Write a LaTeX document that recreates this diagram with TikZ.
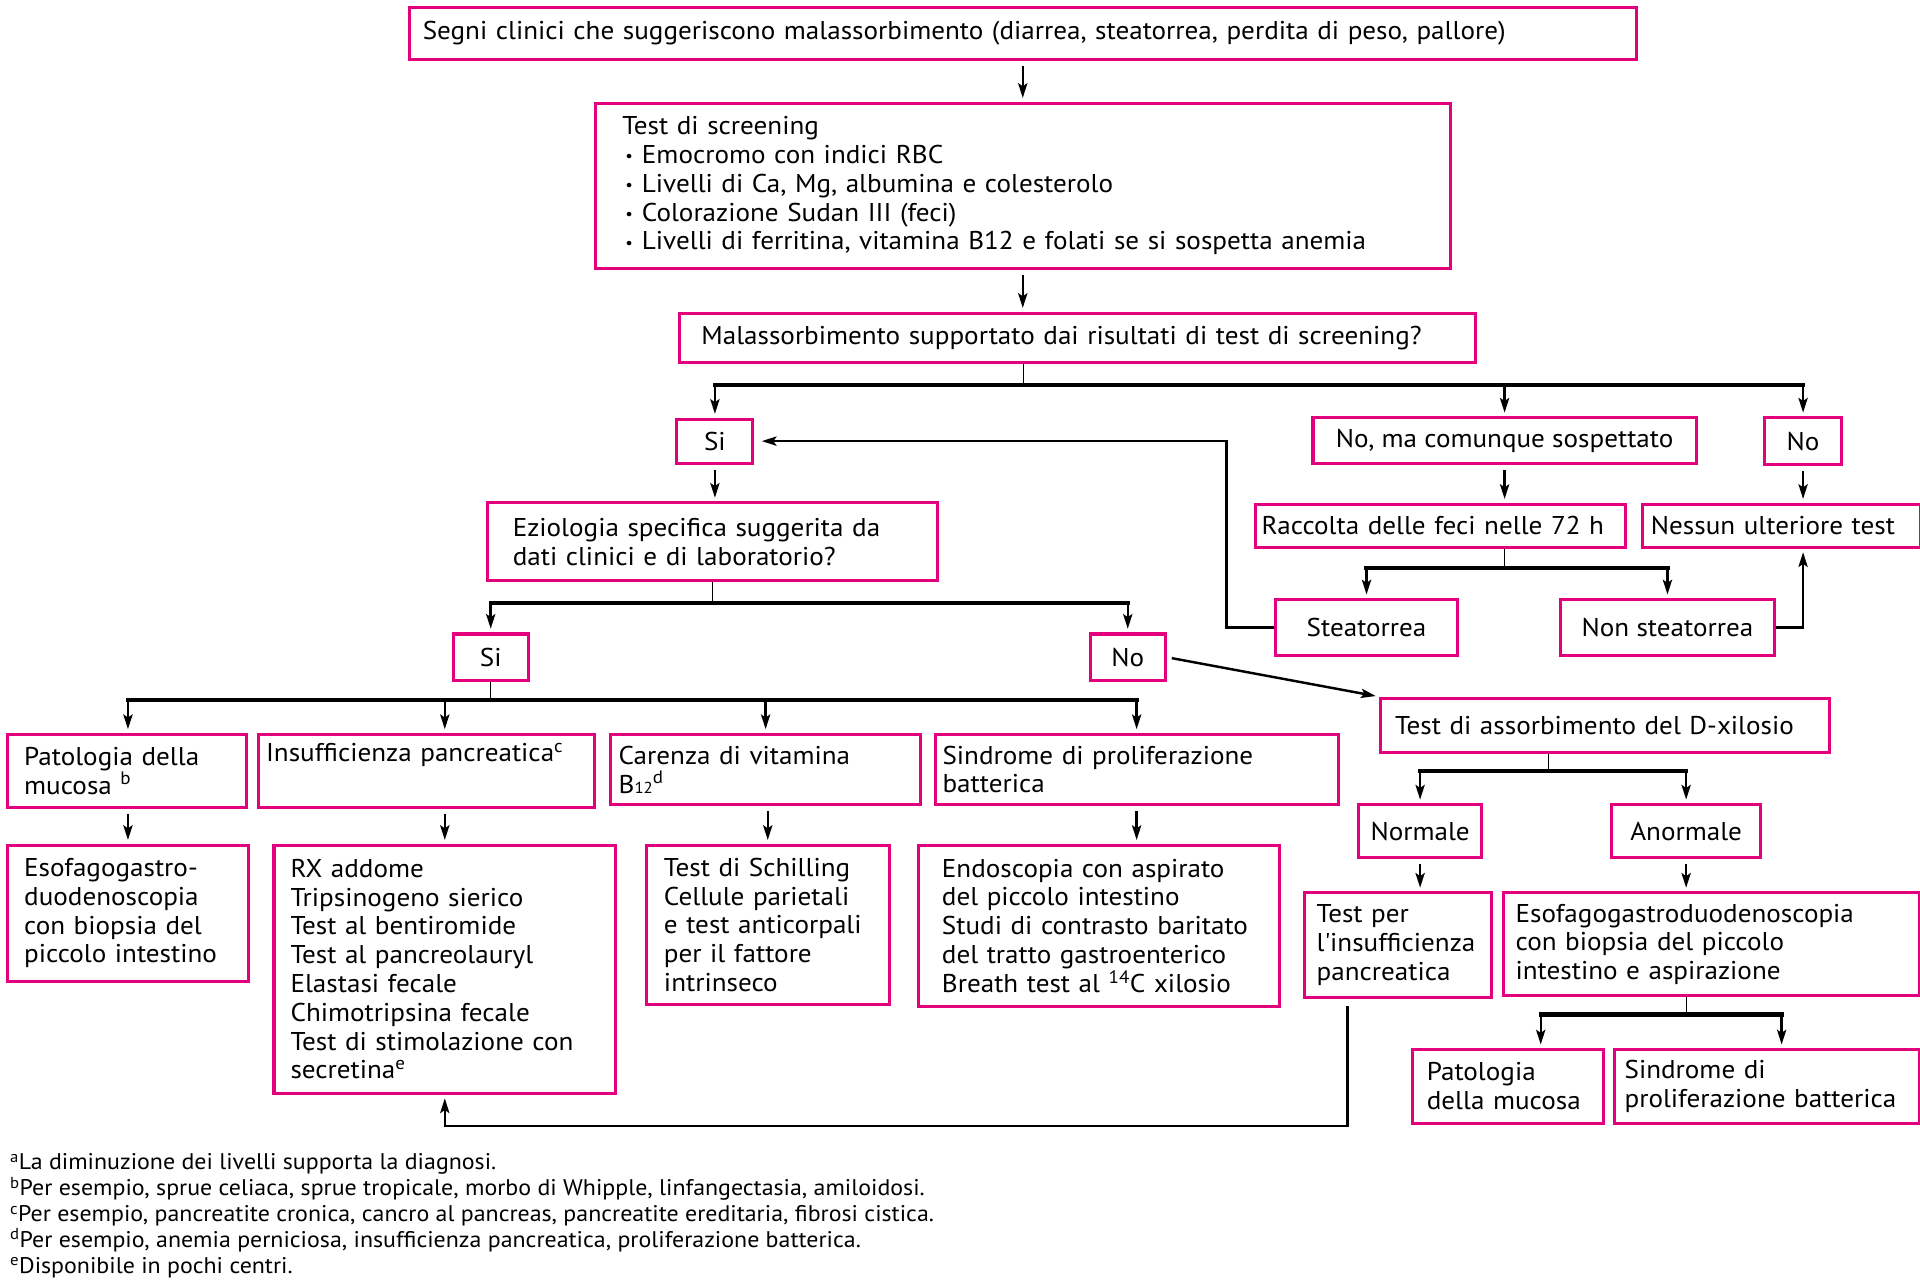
\documentclass[tikz,border=0pt]{standalone}
\usepackage{fontspec}
\setmainfont{PT Sans}[FakeStretch=1.055]
\usetikzlibrary{arrows.meta,calc}
\definecolor{pnk}{RGB}{228,0,124}
\newcommand{\fs}{\fontsize{21}{23.5}\selectfont}
\newcommand{\itm}{\makebox[16pt][l]{\hspace{2.5pt}\raisebox{1.5pt}{\fontsize{13}{13}\selectfont\textbullet}}}
\tikzset{
  box/.style={draw=pnk, line width=2.5pt, anchor=north west, align=left, inner ysep=0pt, font=\fs},
  lbl/.style={draw=pnk, line width=2.5pt, anchor=north west, inner sep=0pt, font=\fs},
  arr/.style={-{Stealth[length=12pt,width=7.5pt,inset=2.5pt]}, line width=2pt, shorten >=3pt},
  loose/.style={shorten <=4pt},
  bar/.style={line width=3.5pt, line cap=rect},
}
\begin{document}
\begin{tikzpicture}[x=1pt, y=-1pt]
  \useasboundingbox (0,0) rectangle (1568,1045.33);

  \node[box, inner xsep=11pt, text width=980pt, minimum height=42pt] (sign) at (333,5) {Segni clinici che suggeriscono malassorbimento (diarrea, steatorrea, perdita di peso, pallore)};
  \node[box, inner xsep=22pt, text width=654pt, minimum height=135pt] (scr) at (485,83) {Test di screening\\ \itm Emocromo con indici RBC\\ \itm Livelli di Ca, Mg, albumina e colesterolo\\ \itm Colorazione Sudan III (feci)\\ \itm Livelli di ferritina, vitamina B12 e folati se si sospetta anemia};
  \node[box, inner xsep=17.5pt, text width=615pt, minimum height=40pt] (mal) at (554,254.5) {Malassorbimento supportato dai risultati di test di screening?};

  \node[lbl, minimum width=62pt, minimum height=36pt] (si1) at (551.6,341) {Si};
  \node[lbl, minimum width=313pt, minimum height=37pt] (noma) at (1071,340) {No, ma comunque sospettato};
  \node[lbl, minimum width=62.5pt, minimum height=38pt] (no1) at (1440,340) {No};
  \node[box, inner xsep=5pt, text width=292pt, minimum height=35pt] (rac) at (1024,410.5) {Raccolta delle feci nelle 72 h};
  \node[box, inner xsep=7pt, text width=213pt, minimum height=35pt] (nes) at (1340,410.5) {Nessun ulteriore test};
  \node[lbl, minimum width=148.5pt, minimum height=45.5pt] (ste) at (1040.5,488.5) {Steatorrea};
  \node[lbl, minimum width=175pt, minimum height=45.5pt] (nst) at (1273,488.5) {Non steatorrea};

  \node[box, inner xsep=21pt, text width=326pt, minimum height=63.5pt] (ezi) at (396.5,409.5) {Eziologia specifica suggerita da\\ dati clinici e di laboratorio?};
  \node[lbl, minimum width=61pt, minimum height=38pt] (si2) at (369,516.5) {Si};
  \node[lbl, minimum width=61.5pt, minimum height=38pt] (no2) at (889,516.5) {No};

  \node[box, inner xsep=13.5pt, text width=168pt, minimum height=59.5pt] (pat) at (5,598.5) {Patologia della\\ mucosa \textsuperscript{b}};
  \node[box, inner xsep=6pt, text width=262pt, minimum height=59.5pt] (ins) at (210,598.5) {Insufficienza pancreatica\textsuperscript{c}\\ \strut};
  \node[box, inner xsep=6.5pt, text width=240pt, minimum height=57.5pt] (car) at (497.5,598.5) {Carenza di vitamina\\ B{\fontsize{13}{13}\selectfont 12}\textsuperscript{d}};
  \node[box, inner xsep=6pt, text width=317pt, minimum height=57.5pt] (sin) at (762.5,598.5) {Sindrome di proliferazione\\ batterica};

  \node[box, inner xsep=13.5pt, text width=169.5pt, minimum height=111pt] (eso) at (5,689) {Esofagogastro-\\ duodenoscopia\\ con biopsia del\\ piccolo intestino};
  \node[box, inner xsep=13.5pt, text width=252pt, minimum height=202.5pt] (rx) at (222.5,689) {RX addome\\ Tripsinogeno sierico\\ Test al bentiromide\\ Test al pancreolauryl\\ Elastasi fecale\\ Chimotripsina fecale\\ Test di stimolazione con\\ secretina\textsuperscript{e}};
  \node[box, inner xsep=14.5pt, text width=169.5pt, minimum height=130pt] (sch) at (526.5,689) {Test di Schilling\\ Cellule parietali\\ e test anticorpali\\ per il fattore\\ intrinseco};
  \node[box, inner xsep=19pt, text width=256.5pt, minimum height=131.5pt] (endo) at (749,689) {Endoscopia con aspirato\\ del piccolo intestino\\ Studi di contrasto baritato\\ del tratto gastroenterico\\ Breath test al \textsuperscript{14}C xilosio};

  \node[box, inner xsep=11.5pt, text width=343.5pt, minimum height=44pt] (dx) at (1126.5,569) {Test di assorbimento del D-xilosio};
  \node[lbl, minimum width=101pt, minimum height=43pt] (nor) at (1108,656) {Normale};
  \node[lbl, minimum width=121.5pt, minimum height=43pt] (anor) at (1315,656) {Anormale};
  \node[box, inner xsep=10pt, text width=132.5pt, minimum height=85pt] (tpi) at (1064,728) {Test per\\ l\textquotesingle insufficienza\\ pancreatica};
  \node[box, inner xsep=10pt, text width=320pt, minimum height=84pt] (eso2) at (1226.5,728) {Esofagogastroduodenoscopia\\ con biopsia del piccolo\\ intestino e aspirazione};
  \node[box, inner xsep=12pt, text width=132pt, minimum height=60pt] (pat2) at (1152,856) {Patologia\\ della mucosa};
  \node[box, inner xsep=8.5pt, text width=232.5pt, minimum height=60pt] (sin2) at (1317,856) {Sindrome di\\ proliferazione batterica};

  \node[anchor=north west, align=left, inner sep=0pt, font=\fontsize{18.5}{21.2}\selectfont] (note) at (8,942) {\textsuperscript{a}La diminuzione dei livelli supporta la diagnosi.\\ \textsuperscript{b}Per esempio, sprue celiaca, sprue tropicale, morbo di Whipple, linfangectasia, amiloidosi.\\ \textsuperscript{c}Per esempio, pancreatite cronica, cancro al pancreas, pancreatite ereditaria, fibrosi cistica.\\ \textsuperscript{d}Per esempio, anemia perniciosa, insufficienza pancreatica, proliferazione batterica.\\ \textsuperscript{e}Disponibile in pochi centri.};

  % top column
  \draw[arr, loose] (sign.south) -- (scr.north);
  \draw[arr, loose] (scr.south) -- (scr.south |- mal.north);
  \draw (scr.south |- mal.south) -- ++(0,17.5) coordinate (j1);
  \draw[bar] (j1 -| si1.north) -- (j1 -| no1.north);
  \foreach \n in {si1, noma, no1} \draw[arr] (j1 -| \n.north) -- (\n.north);

  % no, ma comunque sospettato
  \draw[arr, loose] (noma.south) -- (noma.south |- rac.north);
  \draw[arr, loose] (no1.south) -- (no1.south |- nes.north);
  \draw (noma.south |- rac.south) -- ++(0,16) coordinate (j4);
  \draw[bar] (j4 -| ste.north) -- (j4 -| nst.north);
  \foreach \n in {ste, nst} \draw[arr] (j4 -| \n.north) -- (\n.north);
  \draw[arr] (nst.east) -| (no1.south |- nes.south);
  \draw[arr, shorten >=6pt] (ste.west) -- ++(-39,0) |- (si1.east);

  % si
  \draw[arr, loose] (si1.south) -- (si1.south |- ezi.north);
  \draw (ezi.south) -- ++(0,17) coordinate (j2);
  \draw[bar] (j2 -| si2.north) -- (j2 -| no2.north);
  \foreach \n in {si2, no2} \draw[arr] (j2 -| \n.north) -- (\n.north);
  \draw (si2.south) -- ++(0,14.5) coordinate (j3);
  \draw[bar] (j3 -| eso.north) -- (j3 -| sin.north);
  \foreach \x/\n in {eso/pat, rx/ins, car/car, sin/sin} \draw[arr] (j3 -| \x.north) -- (\x.north |- \n.north);
  \foreach \x/\n in {eso/pat, rx/ins, sch/car} \draw[arr, loose] (\x.north |- \n.south) -- (\x.north);
  \draw[arr, loose] (sin.south) -- (sin.south |- endo.north);

  % no
  \draw[arr, loose] (no2.east) -- (dx.north west);
  \draw ($(dx.south)+(-47,0)$) -- ++(0,14) coordinate (j6);
  \draw[bar] (j6 -| nor.north) -- (j6 -| anor.north);
  \foreach \n in {nor, anor} \draw[arr] (j6 -| \n.north) -- (\n.north);
  \draw[arr, loose] (nor.south) -- (nor.south |- tpi.north);
  \draw[arr, loose] (anor.south) -- (anor.south |- eso2.north);
  \draw (anor.south |- eso2.south) -- ++(0,14) coordinate (j7);
  \draw[bar] ($(j7 -| pat2.north)+(27,0)$) -- ($(j7 -| sin2.north)+(12,0)$);
  \draw[arr] ($(j7 -| pat2.north)+(27,0)$) -- ($(pat2.north)+(27,0)$);
  \draw[arr] ($(j7 -| sin2.north)+(12,0)$) -- ($(sin2.north)+(12,0)$);
  \draw[arr] ($(tpi.south)+(-41,6)$) -- ++(0,98) -| (rx.south);
\end{tikzpicture}
\end{document}
